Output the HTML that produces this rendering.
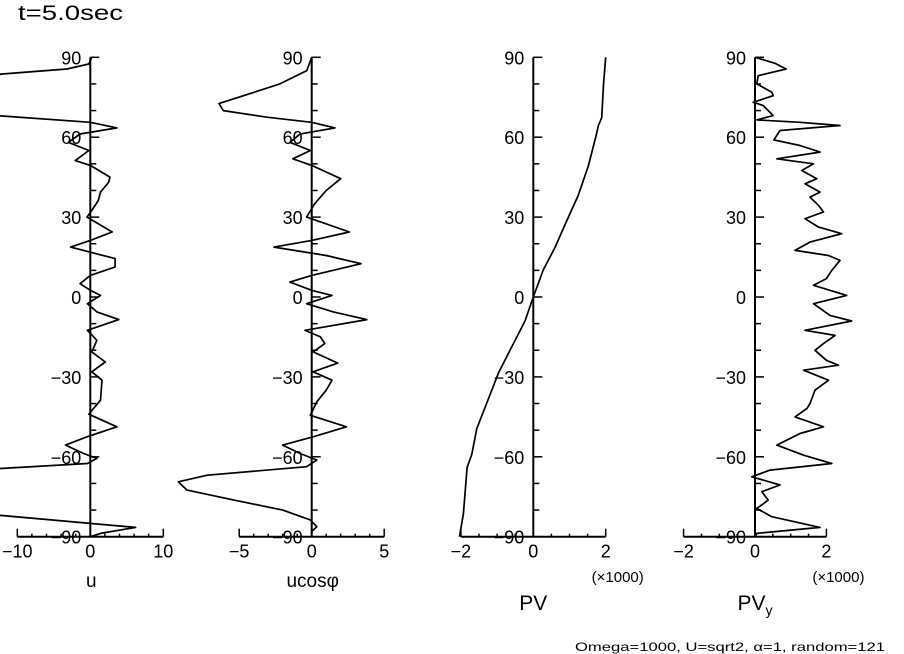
<!DOCTYPE html>
<html><head><meta charset="utf-8"><style>
html,body{margin:0;padding:0;background:#fff;}
svg{display:block;font-family:"Liberation Sans",sans-serif;}
</style></head><body>
<svg id="chart" width="904" height="654" viewBox="0 0 904 654" xmlns="http://www.w3.org/2000/svg">
<text x="18" y="20" font-size="21" textLength="105" lengthAdjust="spacingAndGlyphs">t=5.0sec</text>
<text x="575" y="651" font-size="12" textLength="310" lengthAdjust="spacingAndGlyphs">Omega=1000, U=sqrt2, α=1, random=121</text>
</svg>
<script>
// Latitude ticks
const latTicks = [90, 60, 30, 0, -30, -60, -90];
// u panel data (lat, value)
const uLat = [90,87.5,85.6,83.7,80,72.6,68,65.6,63.5,61.2,58.1,55,51.2,49.4,45,43,39.4,36.25,32.5,30,24.4,21.25,18.75,14.4,11.25,8.1,5,2.5,0.6,-2.5,-5.6,-8.5,-12.5,-16.25,-20.6,-24.4,-28.1,-31.25,-38.75,-44,-48.75,-52.5,-55.6,-58.75,-60.6,-62.5,-64.4,-70,-76,-82,-86.5,-88.75,-90];
const uVal = [0.2,-0.2,-3.2,-12.3,-14,-21,-12.3,0,3.65,-1.4,-3.0,-0.2,-2.05,0,2.7,2.5,1.4,1.1,0.2,-0.45,3.0,0,-2.7,3.4,3.4,0,-1.4,0,1.4,-0.4,0.9,3.9,-0.4,0.9,0.2,2.05,0.2,1.6,1.4,-0.2,3.65,-0.45,-3.4,-0.9,0.9,-0.4,-12.3,-27,-22,-12.3,6.2,1.4,0];
// u cos(phi) panel data
const ucLat = [90,85,80,75.6,72.6,70,67.5,65.6,63.5,61.2,58.1,55,51.9,49.4,44.4,40,35,30,24.4,21.25,18.75,15.6,12.5,8.1,5.6,2.5,0.6,-2.5,-5.6,-8.5,-12.5,-15,-17.5,-20.6,-24.8,-28.1,-31.25,-35,-39.4,-44.4,-48.75,-52.5,-55.6,-58.75,-61.2,-63.7,-66.9,-69.4,-72.5,-76.2,-80,-83.7,-86.25,-88,-90];
const ucVal = [0,-0.34,-2.2,-4.7,-6.4,-6.1,-3.1,0,1.6,-0.8,-1.5,-0.1,-1.3,0,2.0,1.0,0.2,-0.35,2.6,0,-2.6,1.0,3.4,0,-1.5,0,1.4,-0.35,1.5,3.8,-0.46,0.6,0.9,0.1,1.8,0.1,1.4,1.0,0.35,-0.1,2.4,0.1,-2.0,-0.8,0.35,-0.35,-7.2,-9.2,-8.6,-5.4,-2.0,-0.1,0.35,0,0];
// PV panel data (x1000)
const pvLat = [90,79.8,67.3,64.5,60.3,49.2,38.1,27,18.6,10.3,0,-9,-18.8,-28.5,-39.6,-49.4,-59.1,-64,-81.4,-88.4,-90];
const pvVal = [2.0,1.94,1.89,1.8,1.73,1.52,1.24,0.87,0.6,0.28,0,-0.23,-0.6,-0.96,-1.28,-1.56,-1.7,-1.83,-1.93,-2.02,-2.04];
// PV_y panel data (x1000)
const pvyLat = [90,87.75,85.6,83.1,80,76.9,75.6,73.1,71.9,68.1,66.5,65.6,64.4,62.5,59,56.9,54.4,51.9,50,47.5,44.4,42.5,39.4,37.5,34.4,31.9,29.4,26.25,23.75,20.6,17.5,15.6,13.75,10,6.9,4.4,0.6,-2.5,-6.9,-9,-12.5,-14.4,-17.5,-20,-23.75,-25.6,-27.5,-31.25,-35,-40,-41.9,-45,-48.75,-51.25,-55.6,-59.4,-62.5,-65,-67.5,-70.6,-73.1,-76.25,-79.4,-82.5,-86.5,-88.75,-90];
const pvyVal = [0,0.56,0.87,0.09,0.05,0.47,0.51,-0.05,0.23,0.51,0.05,1.26,2.38,0.7,0.53,1.26,1.82,0.61,1.64,1.31,1.73,1.4,1.82,1.54,1.78,1.92,1.4,1.78,2.43,1.54,1.12,2.06,2.38,2.15,2.0,1.64,2.57,1.64,2.1,2.71,1.4,2.24,1.92,1.68,2.0,2.34,1.36,2.06,1.68,1.54,1.45,1.12,1.92,1.26,0.61,1.36,2.15,0.42,-0.09,0.7,0.19,0.37,0.05,0.47,1.82,0.05,0];

const svg = document.getElementById('chart');
const NS = 'http://www.w3.org/2000/svg';
const Y90 = 57.3, YM90 = 536.7;
function yS(lat){ return Y90 + (90 - lat) * (YM90 - Y90) / 180; }
function mk(tag, attrs, parent){
  const e = document.createElementNS(NS, tag);
  for (const k in attrs) e.setAttribute(k, attrs[k]);
  (parent || svg).appendChild(e);
  return e;
}
const panels = [
  {key:'u', x0:90.3, ppu:7.3, min:-10, max:10, minor:2, ticks:[-10,0,10], lat:uLat, val:uVal, label:'u', scale:false},
  {key:'ucos', x0:311.7, ppu:14.5, min:-5, max:5, minor:1, ticks:[-5,0,5], lat:ucLat, val:ucVal, label:'ucosφ', scale:false},
  {key:'pv', x0:533.3, ppu:36.2, min:-2, max:2, minor:0.5, ticks:[-2,0,2], lat:pvLat, val:pvVal, label:'PV', scale:true},
  {key:'pvy', x0:755, ppu:35.7, min:-2, max:2, minor:0.5, ticks:[-2,0,2], lat:pvyLat, val:pvyVal, label:'PV', sub:'y', scale:true}
];
panels.forEach(p => {
  const g = mk('g', {});
  
  
  const xS = v => p.x0 + v * p.ppu;
  const va = mk('line', {x1:p.x0, y1:Y90, x2:p.x0, y2:YM90, stroke:'#000', 'stroke-width':2}, g);
  
  
  for (let l = -90; l <= 90; l += 10) {
    const major = l % 30 === 0;
    mk('line', {x1:p.x0, y1:yS(l), x2:p.x0 + (major ? 9 : 6), y2:yS(l), stroke:'#000', 'stroke-width':1.5}, g);
  }
  latTicks.forEach(l => {
    const t = mk('text', {x:p.x0 - 9, y:yS(l) + 7, 'font-size':18, 'text-anchor':'end'}, g);
    t.textContent = l < 0 ? '\u2212' + Math.abs(l) : String(l);
    
    
  });
  const ha = mk('line', {x1:xS(p.min), y1:YM90, x2:xS(p.max), y2:YM90, stroke:'#000', 'stroke-width':2}, g);
  
  
  for (let v = p.min; v <= p.max + 1e-9; v += p.minor) {
    const major = p.ticks.some(t => Math.abs(t - v) < 1e-9);
    mk('line', {x1:xS(v), y1:YM90, x2:xS(v), y2:YM90 - (major ? 8 : 3), stroke:'#000', 'stroke-width':1.5}, g);
  }
  p.ticks.forEach(v => {
    const t = mk('text', {x:xS(v), y:YM90 + 21, 'font-size':18, 'text-anchor':'middle'}, g);
    t.textContent = v < 0 ? '\u2212' + Math.abs(v) : String(v);
    
    
  });
  if (p.scale) {
    const s = mk('text', {x:xS(p.max) + 12, y:582, 'font-size':15, 'text-anchor':'middle'}, g);
    s.textContent = '(\u00d71000)';
    
    
  }
  const lab = mk('text', {x:p.x0 + (p.scale ? 0 : 1), y:p.scale ? 610 : 587, 'font-size':p.scale ? 21 : 19, 'text-anchor':'middle'}, g);
  lab.textContent = p.label;
  if (p.sub) {
    const ts = mk('tspan', {'font-size':14, dy:5}, lab);
    ts.textContent = p.sub;
  }
  
  
  const pts = p.lat.map((l, i) => xS(p.val[i]).toFixed(1) + ',' + yS(l).toFixed(1)).join(' ');
  const pl = mk('polyline', {points:pts, fill:'none', stroke:'#000', 'stroke-width':1.7, 'stroke-linejoin':'round'}, g);
  
  
});
</script>
</body></html>
